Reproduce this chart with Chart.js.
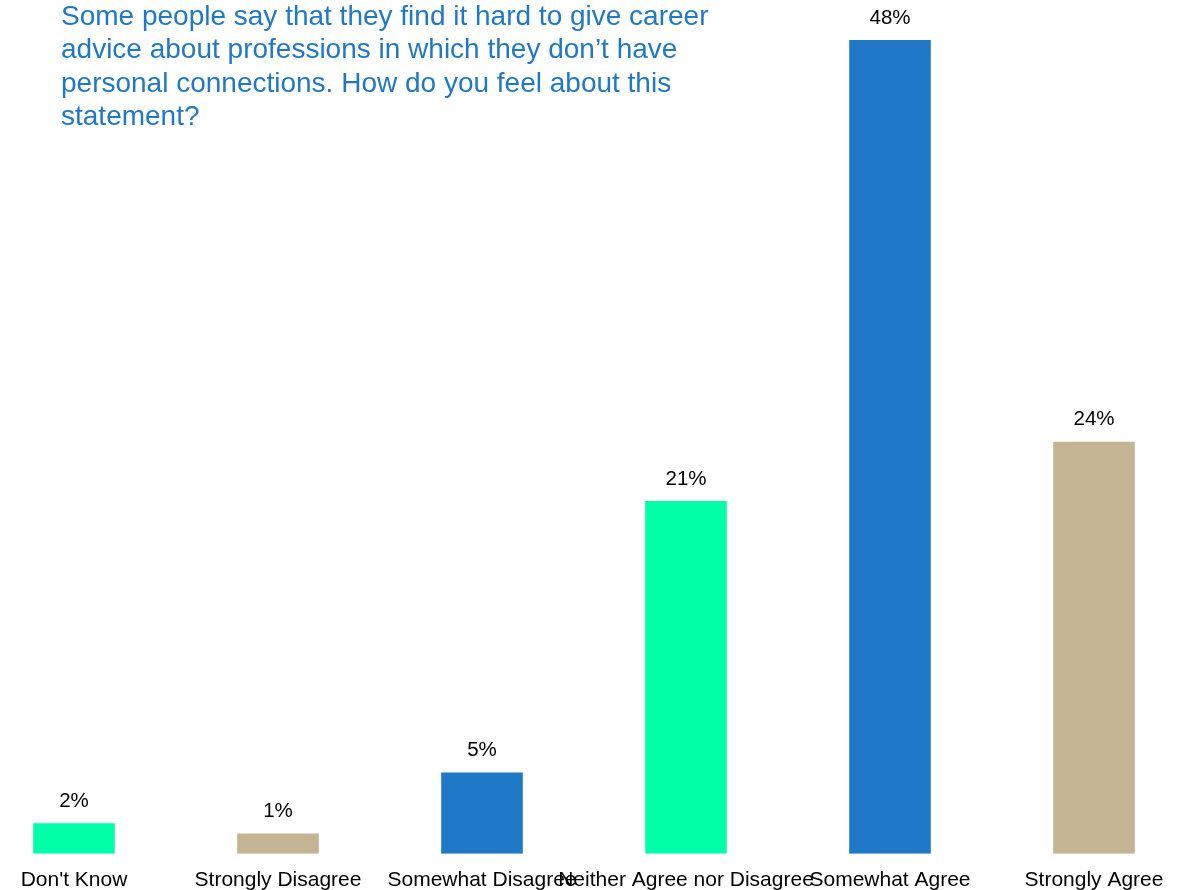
<!DOCTYPE html>
<html>
<head>
<meta charset="utf-8">
<script src="https://cdn.jsdelivr.net/npm/chart.js@4"></script>
<style>
  html, body { margin: 0; padding: 0; background: #fff; overflow: hidden; }
  body { width: 1186px; height: 890px; position: relative; }
  #wrap { position: absolute; left: -28px; top: 0; width: 1224px; height: 907px; }
  #title {
    position: absolute; left: 61px; top: -1px; width: 700px;
    font-family: "Liberation Sans", Arial, sans-serif; font-size: 28px; line-height: 33.3px;
    color: #1f78c8; z-index: 2;
  }
</style>
</head>
<body>
<div id="title">Some people say that they find it hard to give career advice about professions in which they don’t have personal connections. How do you feel about this statement?</div>
<div id="wrap"><canvas id="chart"></canvas></div>
<script>
const categories = ["Don't Know", 'Strongly Disagree', 'Somewhat Disagree', 'Neither Agree nor Disagree', 'Somewhat Agree', 'Strongly Agree'];
const shares = [1.8, 1.2, 4.8, 20.8, 48.0, 24.3];
const valueLabels = ['2%', '1%', '5%', '21%', '48%', '24%'];
const barColors = ['#00ffa6', '#c4b494', '#1f78c8', '#00ffa6', '#1f78c8', '#c4b494'];

const valueLabelPlugin = {
  id: 'valueLabels',
  afterDatasetsDraw(chart) {
    const ctx = chart.ctx;
    ctx.save();
    ctx.font = '20.5px "Liberation Sans", Arial, sans-serif';
    ctx.fillStyle = '#000';
    ctx.textAlign = 'center';
    ctx.textBaseline = 'middle';
    chart.getDatasetMeta(0).data.forEach((bar, i) => {
      ctx.fillText(valueLabels[i], bar.x, bar.y - 22);
    });
    ctx.restore();
  }
};

new Chart(document.getElementById('chart'), {
  type: 'bar',
  data: {
    labels: categories,
    datasets: [{
      data: shares,
      backgroundColor: barColors,
      categoryPercentage: 1,
      barPercentage: 0.4,
    }],
  },
  options: {
    responsive: true,
    maintainAspectRatio: false,
    animation: false,
    layout: { padding: { top: 6, bottom: 0, left: 0, right: 0 } },
    plugins: { legend: { display: false }, tooltip: { enabled: false } },
    scales: {
      x: {
        grid: { display: false, drawTicks: false },
        border: { display: false },
        ticks: {
          autoSkip: false, maxRotation: 0, minRotation: 0, padding: 14,
          color: '#000', font: { family: '"Liberation Sans", Arial, sans-serif', size: 21 },
        },
      },
      y: { display: false, min: 0, max: 50 },
    },
  },
  plugins: [valueLabelPlugin],
});
</script>
</body>
</html>
